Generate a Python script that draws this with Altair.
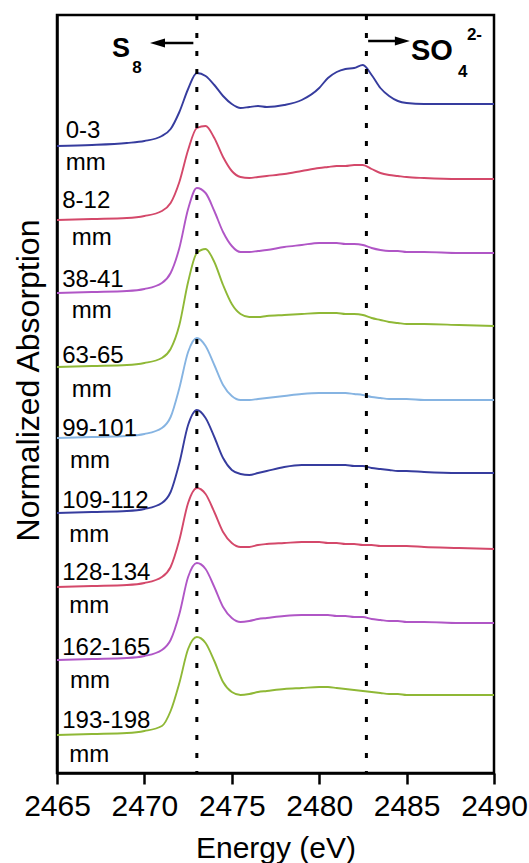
import altair as alt
import pandas as pd

# ---------------- data ----------------
energy = [2465, 2467, 2469, 2470, 2471, 2471.5, 2472, 2472.5, 2473, 2473.5,
          2474, 2474.5, 2475, 2475.5, 2476, 2476.5, 2477, 2478, 2479, 2480,
          2480.5, 2481, 2481.5, 2482, 2482.5, 2483, 2483.5, 2484, 2484.5,
          2485, 2486, 2488, 2490]

depths = ["0-3", "8-12", "38-41", "63-65", "99-101", "109-112",
          "128-134", "162-165", "193-198"]
offsets = [6.27, 5.53, 4.80, 4.06, 3.35, 2.60, 1.86, 1.13, 0.38]
colors = ["#363c9e", "#d4486a", "#b056c6", "#8fb836", "#86b4e2",
          "#363c9e", "#d4486a", "#b056c6", "#8fb836"]

s_0_3 = [0, 0.01, 0.03, 0.05, 0.10, 0.17, 0.34, 0.57, 0.73, 0.70, 0.61, 0.50, 0.42, 0.38, 0.39, 0.40, 0.39,
         0.41, 0.46, 0.58, 0.68, 0.74, 0.77, 0.78, 0.81, 0.71, 0.58, 0.50, 0.45, 0.43, 0.42, 0.42, 0.42]
s_8_12 = [0, 0.01, 0.02, 0.04, 0.09, 0.17, 0.38, 0.70, 0.92, 0.94, 0.82, 0.63, 0.49, 0.43, 0.42, 0.43, 0.44,
          0.46, 0.49, 0.52, 0.53, 0.54, 0.54, 0.55, 0.55, 0.51, 0.47, 0.45, 0.44, 0.43, 0.42, 0.41, 0.41]
s_38_41 = [0, 0.01, 0.02, 0.04, 0.10, 0.20, 0.45, 0.84, 1.05, 1.00, 0.82, 0.61, 0.47, 0.41, 0.41, 0.42, 0.43,
           0.46, 0.48, 0.50, 0.50, 0.50, 0.49, 0.49, 0.48, 0.45, 0.43, 0.42, 0.42, 0.41, 0.41, 0.40, 0.40]
s_63_65 = [0, 0.01, 0.02, 0.04, 0.09, 0.18, 0.42, 0.85, 1.14, 1.18, 1.05, 0.82, 0.63, 0.53, 0.50, 0.50, 0.51,
           0.52, 0.53, 0.54, 0.54, 0.54, 0.53, 0.53, 0.52, 0.49, 0.47, 0.45, 0.44, 0.43, 0.43, 0.42, 0.41]
s_99_101 = [0, 0.01, 0.02, 0.04, 0.10, 0.21, 0.50, 0.86, 1.00, 0.92, 0.73, 0.53, 0.42, 0.38, 0.38, 0.39, 0.40,
            0.42, 0.44, 0.45, 0.45, 0.45, 0.45, 0.44, 0.43, 0.41, 0.40, 0.39, 0.39, 0.39, 0.38, 0.38, 0.38]
s_109_112 = [0, 0.01, 0.02, 0.04, 0.10, 0.21, 0.50, 0.88, 1.03, 0.95, 0.76, 0.55, 0.43, 0.39, 0.38, 0.40, 0.42,
             0.46, 0.48, 0.48, 0.48, 0.48, 0.48, 0.47, 0.47, 0.45, 0.44, 0.43, 0.42, 0.42, 0.41, 0.40, 0.40]
s_128_134 = [0, 0.01, 0.02, 0.04, 0.10, 0.20, 0.47, 0.84, 0.99, 0.93, 0.75, 0.55, 0.44, 0.40, 0.40, 0.42, 0.43,
             0.44, 0.45, 0.45, 0.44, 0.44, 0.43, 0.43, 0.42, 0.42, 0.41, 0.41, 0.41, 0.41, 0.40, 0.39, 0.38]
s_162_165 = [0, 0.01, 0.02, 0.04, 0.10, 0.20, 0.46, 0.83, 0.97, 0.91, 0.73, 0.53, 0.42, 0.38, 0.39, 0.41, 0.42,
             0.44, 0.45, 0.45, 0.45, 0.44, 0.44, 0.43, 0.43, 0.41, 0.40, 0.39, 0.39, 0.38, 0.38, 0.37, 0.37]
s_193_198 = [0, 0.01, 0.02, 0.04, 0.09, 0.24, 0.52, 0.86, 0.98, 0.92, 0.74, 0.53, 0.43, 0.40, 0.41, 0.43, 0.44,
             0.46, 0.47, 0.48, 0.48, 0.47, 0.46, 0.45, 0.44, 0.43, 0.42, 0.41, 0.41, 0.40, 0.40, 0.40, 0.40]
spectra = [s_0_3, s_8_12, s_38_41, s_63_65, s_99_101, s_109_112, s_128_134, s_162_165, s_193_198]

# sample labels (depth line above, "mm" below)
depth_label_x = [2465.5, 2465.3, 2465.3, 2465.3, 2465.3, 2465.3, 2465.3, 2465.3, 2465.3]
depth_label_y = [6.35, 5.65, 4.86, 4.10, 3.37, 2.65, 1.93, 1.18, 0.45]
mm_label_x = [2465.5, 2465.85, 2465.85, 2465.85, 2465.75, 2465.7, 2465.7, 2465.75, 2465.7]
mm_label_y = [6.03, 5.28, 4.55, 3.76, 3.05, 2.31, 1.60, 0.85, 0.11]

# reference energies (dotted lines)
ref_energy = [2473.0, 2482.7]

# arrow annotations
arrow_start = [2472.8, 2482.8]
arrow_end = [2470.75, 2484.76]
arrow_y = [7.30, 7.32]
arrow_dir = ["left", "right"]

# species labels
s8_text, s8_x, s8_y = "S", 2468.15, 7.16
so_text, so_x, so_y = "SO", 2485.25, 7.13
script_text = ["8", "4", "2-"]
script_x = [2469.3, 2487.94, 2488.45]
script_y = [7.00, 6.96, 7.33]

# ---------------- build tables ----------------
rows = []
for name, off, vals in zip(depths, offsets, spectra):
    for e, v in zip(energy, vals):
        rows.append({"Energy": e, "Absorption": off + v, "Depth": name})
df = pd.DataFrame(rows)

lab_df = pd.DataFrame({"x": depth_label_x + mm_label_x,
                       "y": depth_label_y + mm_label_y,
                       "t": depths + ["mm"] * len(depths)})
ref_df = pd.DataFrame({"E": ref_energy})
arr_df = pd.DataFrame({"x": arrow_start, "x2": arrow_end, "y": arrow_y, "d": arrow_dir})
s8_df = pd.DataFrame({"x": [s8_x], "y": [s8_y], "t": [s8_text]})
so_df = pd.DataFrame({"x": [so_x], "y": [so_y], "t": [so_text]})
sc_df = pd.DataFrame({"x": script_x, "y": script_y, "t": script_text})

FONT = "Liberation Sans"
xs = alt.Scale(domain=[2465, 2490], nice=False, zero=False)
ys = alt.Scale(domain=[0, 7.58], nice=False, zero=False)

lines = alt.Chart(df).mark_line(interpolate="monotone", strokeWidth=1.9).encode(
    x=alt.X("Energy:Q", scale=xs,
            axis=alt.Axis(values=[2465, 2470, 2475, 2480, 2485, 2490], format="d",
                          title="Energy (eV)", grid=False, labelFontSize=30,
                          labelFont=FONT, labelColor="black", labelPadding=7,
                          tickSize=11, tickWidth=2.5, tickColor="black",
                          domainColor="black", domainWidth=2.5,
                          titleFont=FONT, titleFontSize=30, titleFontWeight="normal",
                          titleColor="black", titleBaseline="alphabetic", titleY=84,
                          labelFlush=False)),
    y=alt.Y("Absorption:Q", scale=ys,
            axis=alt.Axis(labels=False, ticks=False, grid=False,
                          title="Normalized Absorption", titleFont=FONT,
                          titleFontSize=32, titleFontWeight="normal", titleColor="black",
                          titleBaseline="alphabetic", titleX=-19, titleY=365,
                          domainColor="black", domainWidth=2.5)),
    color=alt.Color("Depth:N", scale=alt.Scale(domain=depths, range=colors), legend=None),
    detail="Depth:N",
)

dotted = alt.Chart(ref_df).mark_rule(color="black", strokeWidth=3, strokeDash=[5, 13]).encode(
    x=alt.X("E:Q", scale=xs))

shafts = alt.Chart(arr_df).mark_rule(color="black", strokeWidth=2.5).encode(
    x=alt.X("x:Q", scale=xs), x2="x2:Q", y=alt.Y("y:Q", scale=ys))

heads_left = alt.Chart(arr_df[arr_df.d == "left"]).mark_point(
    shape="M-1,0 L1,-0.6 L1,0.6 Z", filled=True, color="black", opacity=1, size=225).encode(
    x=alt.X("x2:Q", scale=xs), y=alt.Y("y:Q", scale=ys))
heads_right = alt.Chart(arr_df[arr_df.d == "right"]).mark_point(
    shape="M1,0 L-1,-0.6 L-1,0.6 Z", filled=True, color="black", opacity=1, size=225).encode(
    x=alt.X("x2:Q", scale=xs), y=alt.Y("y:Q", scale=ys))

labels = alt.Chart(lab_df).mark_text(align="left", baseline="alphabetic", font=FONT,
                                     fontSize=24, color="black").encode(
    x=alt.X("x:Q", scale=xs), y=alt.Y("y:Q", scale=ys), text="t:N")

s8 = alt.Chart(s8_df).mark_text(align="left", baseline="alphabetic", font=FONT,
                                fontWeight="bold", fontSize=27, color="black").encode(
    x=alt.X("x:Q", scale=xs), y=alt.Y("y:Q", scale=ys), text="t:N")
so = alt.Chart(so_df).mark_text(align="left", baseline="alphabetic", font=FONT,
                                fontWeight="bold", fontSize=29, color="black").encode(
    x=alt.X("x:Q", scale=xs), y=alt.Y("y:Q", scale=ys), text="t:N")

scripts = alt.Chart(sc_df).mark_text(align="left", baseline="alphabetic", font=FONT,
                                     fontWeight="bold", fontSize=17, color="black").encode(
    x=alt.X("x:Q", scale=xs), y=alt.Y("y:Q", scale=ys), text="t:N")

chart = alt.layer(lines, dotted, shafts, heads_left, heads_right, labels, s8, so, scripts).properties(
    width=437, height=758,
    autosize=alt.AutoSizeParams(type="none"),
    padding={"left": 57, "top": 15, "right": 35, "bottom": 90},
    background="white",
).configure_view(stroke="black", strokeWidth=2.5)

chart.save("out.html", embed_options={"renderer": "svg", "actions": False})
